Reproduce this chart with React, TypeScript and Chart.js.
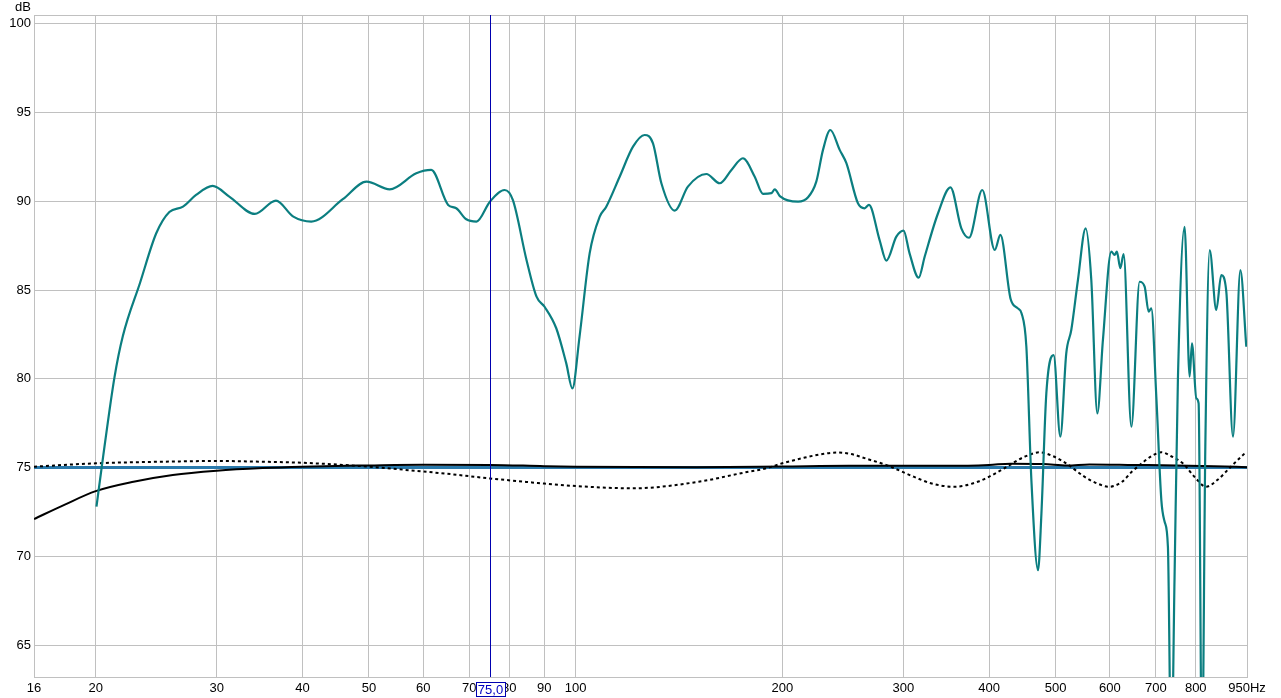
import React, { useEffect, useRef } from "react";
import { Chart, registerables } from "chart.js";

Chart.register(...registerables);

// ---- data ----
const xTickValues = [16.26, 20, 30, 40, 50, 60, 70, 80, 90, 100, 200, 300, 400, 500, 600, 700, 800, 950];
const xTickLabels = ["16", "20", "30", "40", "50", "60", "70", "80", "90", "100", "200", "300", "400", "500", "600", "700", "800", "950Hz"];
const yTickValues = [63.2, 65, 70, 75, 80, 85, 90, 95, 100, 100.5];
const yTickLabels = ["", "65", "70", "75", "80", "85", "90", "95", "100", ""];

const cursorFreq = 75;
const cursorLabel = "75,0";

const responseFreq = [
  20.05, 20.5, 21.3, 21.9, 23.2, 24.5, 25.6, 26.8, 28.0, 29.6, 31.3, 34.1, 36.6, 38.8, 41.2, 45.8, 49.6, 53.6, 58.6,
  61.6, 65.2, 67.0, 69.3, 71.7, 75, 78.8, 81, 84.8, 87.7, 90.1, 93.7, 96.9, 98.9, 101.3, 104.8, 108.4, 110.8, 115.9,
  121.2, 126, 129.6, 133.3, 139.4, 145.7, 155, 162.1, 168.6, 175.2, 182.3, 187.4, 192.8, 195, 198.3, 210.8, 218,
  224.1, 229.2, 234.9, 242.4, 247.9, 257.7, 263.5, 267.4, 277.1, 283.5, 293.1, 300.3, 306.4, 315.9, 322.3, 337.1,
  351.4, 364.5, 374, 391, 407.7, 415.5, 430, 440.6, 446, 453.3, 461, 471.4, 476.8, 484.7, 496.7, 508, 518.2, 527,
  538.9, 553, 563.6, 575.1, 586, 602.7, 609.4, 614.1, 621.2, 628.1, 644.6, 662.7, 674, 683.1, 689.2, 700.9, 712.8,
  720.7, 728.7, 737, 745, 753.5, 770.6, 783.7, 789.9, 801.6, 807.7, 816.9, 826.1, 838.2, 857, 871.5, 886.3, 906.4,
  929.1, 947.8,
];
const responseDb = [
  72.8, 75.6, 80.1, 82.4, 85.4, 88.2, 89.4, 89.7, 90.36, 90.87, 90.27, 89.29, 90.04, 89.14, 88.86, 90.12, 91.11, 90.68, 91.58,
  91.77, 89.8, 89.61, 88.99, 88.86, 89.98, 90.64, 90.08, 86.7, 84.63, 84.06, 82.85, 80.87, 79.46, 82.37, 87.07, 89.14, 89.7, 91.39,
  93.08, 93.74, 93.27, 91.02, 89.48, 90.83, 91.54, 91.02, 91.77, 92.43, 91.39, 90.42, 90.46, 90.68, 90.3, 89.98, 90.23,
  91.11, 92.9, 94.02, 92.9, 92.15, 89.89, 89.61, 89.8, 87.82, 86.66, 88.01, 88.35, 87.07, 85.7, 86.88, 89.33,
  90.79, 88.48, 87.95, 90.64, 87.26, 88.11, 84.5, 83.97, 83.7, 81.81, 74.3, 69.22, 72.42, 79.18, 81.34, 76.74, 81.44, 82.75,
  85.57, 88.48, 85.57, 78.05, 82.19, 87.17, 86.98, 87.17, 86.23, 87.03, 77.3, 85.47, 85.19, 83.78, 83.97, 78.99, 73.17,
  71.95, 70.54, 58, 68.7, 79.93, 88.57, 80.12, 82.0, 78.9, 78.62, 58, 76.2, 87.26, 83.88, 85.85, 84.91, 76.74,
  86.13, 81.81,
];

const targetFreq = [16.26, 950];
const targetDb = [75, 75];

const filterFreq = [16.26, 18, 20, 22.7, 25.9, 30, 35, 40, 50, 60, 75, 90, 100, 150, 200, 250, 300, 350, 400, 430, 480, 520, 560, 650, 750, 850, 950];
const filterDb = [72.1, 72.9, 73.67, 74.2, 74.58, 74.82, 74.97, 75.05, 75.12, 75.16, 75.15, 75.08, 75.05, 75.02, 75.06, 75.1, 75.1, 75.1, 75.15, 75.22, 75.2, 75.12, 75.18, 75.15, 75.12, 75.08, 75.02];

const phaseFreq = [16.26, 20, 25, 30, 35, 40, 50, 55.4, 65, 75, 90, 100, 121, 151, 175, 189, 200, 215, 230, 241, 252, 265, 283.5, 310, 330, 355.6, 385, 410, 428.5, 450, 474, 495, 518, 550, 575, 598, 625, 645, 663, 690, 713, 740, 766, 800, 828, 860, 900, 925, 948];
const phaseDb = [75.05, 75.24, 75.33, 75.37, 75.33, 75.27, 75.05, 74.9, 74.65, 74.39, 74.1, 73.96, 73.83, 74.2, 74.7, 74.95, 75.24, 75.55, 75.78, 75.85, 75.76, 75.5, 75.14, 74.5, 74.1, 73.92, 74.2, 74.7, 75.14, 75.6, 75.86, 75.65, 75.24, 74.5, 74.1, 73.92, 74.2, 74.75, 75.14, 75.65, 75.86, 75.6, 75.24, 74.4, 73.92, 74.3, 75.05, 75.5, 75.89];

const zip = (xs: number[], ys: number[]) => xs.map((x, i) => ({ x, y: ys[i] }));

const FONT = "'Liberation Sans', Arial, sans-serif";

export default function App() {
  const ref = useRef<HTMLCanvasElement | null>(null);

  useEffect(() => {
    document.body.style.margin = "0";
    const canvas = ref.current;
    if (!canvas) return;

    const overlay = {
      id: "overlay",
      afterDatasetsDraw(chart: any) {
        const { ctx, chartArea, scales } = chart;
        const x = Math.round(scales.x.getPixelForValue(cursorFreq)) + 0.5;
        ctx.save();
        ctx.strokeStyle = "#0000b0";
        ctx.lineWidth = 1;
        ctx.beginPath();
        ctx.moveTo(x, chartArea.top);
        ctx.lineTo(x, chartArea.bottom);
        ctx.stroke();
        ctx.restore();
      },
      afterDraw(chart: any) {
        const { ctx, chartArea, scales } = chart;
        ctx.save();
        ctx.font = `13px ${FONT}`;
        ctx.fillStyle = "#000";
        ctx.textAlign = "right";
        ctx.textBaseline = "middle";
        ctx.fillText("dB", chartArea.left - 3, chartArea.top - 8);
        // cursor label box
        const x = Math.round(scales.x.getPixelForValue(cursorFreq)) + 0.5;
        const w = ctx.measureText(cursorLabel).width + 4;
        const top = chartArea.bottom + 5.5;
        const h = 14;
        ctx.fillStyle = "#fff";
        ctx.fillRect(x - w / 2, top, w, h);
        ctx.strokeStyle = "#0000b0";
        ctx.lineWidth = 1;
        ctx.strokeRect(Math.round(x - w / 2) + 0.5, top, Math.round(w), h);
        ctx.fillStyle = "#0000c0";
        ctx.textAlign = "center";
        ctx.fillText(cursorLabel, x, top + h / 2 + 0.5);
        ctx.restore();
      },
    };

    const chart = new Chart(canvas, {
      type: "line",
      data: {
        datasets: [
          {
            label: "Response",
            data: zip(responseFreq, responseDb),
            borderColor: "#0b7e80",
            borderWidth: 2.2,
            pointRadius: 0,
            cubicInterpolationMode: "monotone",
            fill: false,
          },
          {
            label: "Filter",
            data: zip(filterFreq, filterDb),
            borderColor: "#000000",
            borderWidth: 2,
            pointRadius: 0,
            cubicInterpolationMode: "monotone",
            fill: false,
          },
          {
            label: "Phase",
            data: zip(phaseFreq, phaseDb),
            borderColor: "#000000",
            borderWidth: 2,
            borderDash: [3, 3],
            pointRadius: 0,
            cubicInterpolationMode: "monotone",
            fill: false,
          },
          {
            label: "Target",
            data: zip(targetFreq, targetDb),
            borderColor: "#2a7aac",
            borderWidth: 3,
            pointRadius: 0,
            fill: false,
          },
        ],
      },
      options: {
        animation: false,
        responsive: false,
        parsing: true,
        layout: { padding: { top: 15, right: 34, left: 0, bottom: 0 } },
        plugins: { legend: { display: false }, tooltip: { enabled: false } },
        scales: {
          x: {
            type: "logarithmic",
            min: 16.26,
            max: 950,
            afterBuildTicks: (scale: any) => {
              scale.ticks = xTickValues.map((v) => ({ value: v }));
            },
            afterFit: (scale: any) => {
              scale.height = 21;
            },
            ticks: {
              autoSkip: false,
              maxRotation: 0,
              padding: 4,
              color: "#000",
              font: { family: FONT, size: 13 },
              callback: (_v: any, i: number) => xTickLabels[i],
            },
            grid: { color: "#c0c0c0", lineWidth: 1, drawTicks: false },
            border: { display: true, color: "#c0c0c0" },
          },
          y: {
            type: "linear",
            min: 63.2,
            max: 100.5,
            afterBuildTicks: (scale: any) => {
              scale.ticks = yTickValues.map((v) => ({ value: v }));
            },
            afterFit: (scale: any) => {
              scale.width = 34;
            },
            ticks: {
              autoSkip: false,
              padding: 3,
              color: "#000",
              font: { family: FONT, size: 13 },
              callback: (_v: any, i: number) => yTickLabels[i],
            },
            grid: { color: "#c0c0c0", lineWidth: 1, drawTicks: false },
            border: { display: true, color: "#c0c0c0" },
          },
        },
      },
      plugins: [overlay],
    } as any);

    return () => chart.destroy();
  }, []);

  return (
    <div style={{ width: 1281, height: 698, overflow: "hidden", background: "#fff" }}>
      <canvas ref={ref} width={1281} height={698} style={{ display: "block" }} />
    </div>
  );
}
